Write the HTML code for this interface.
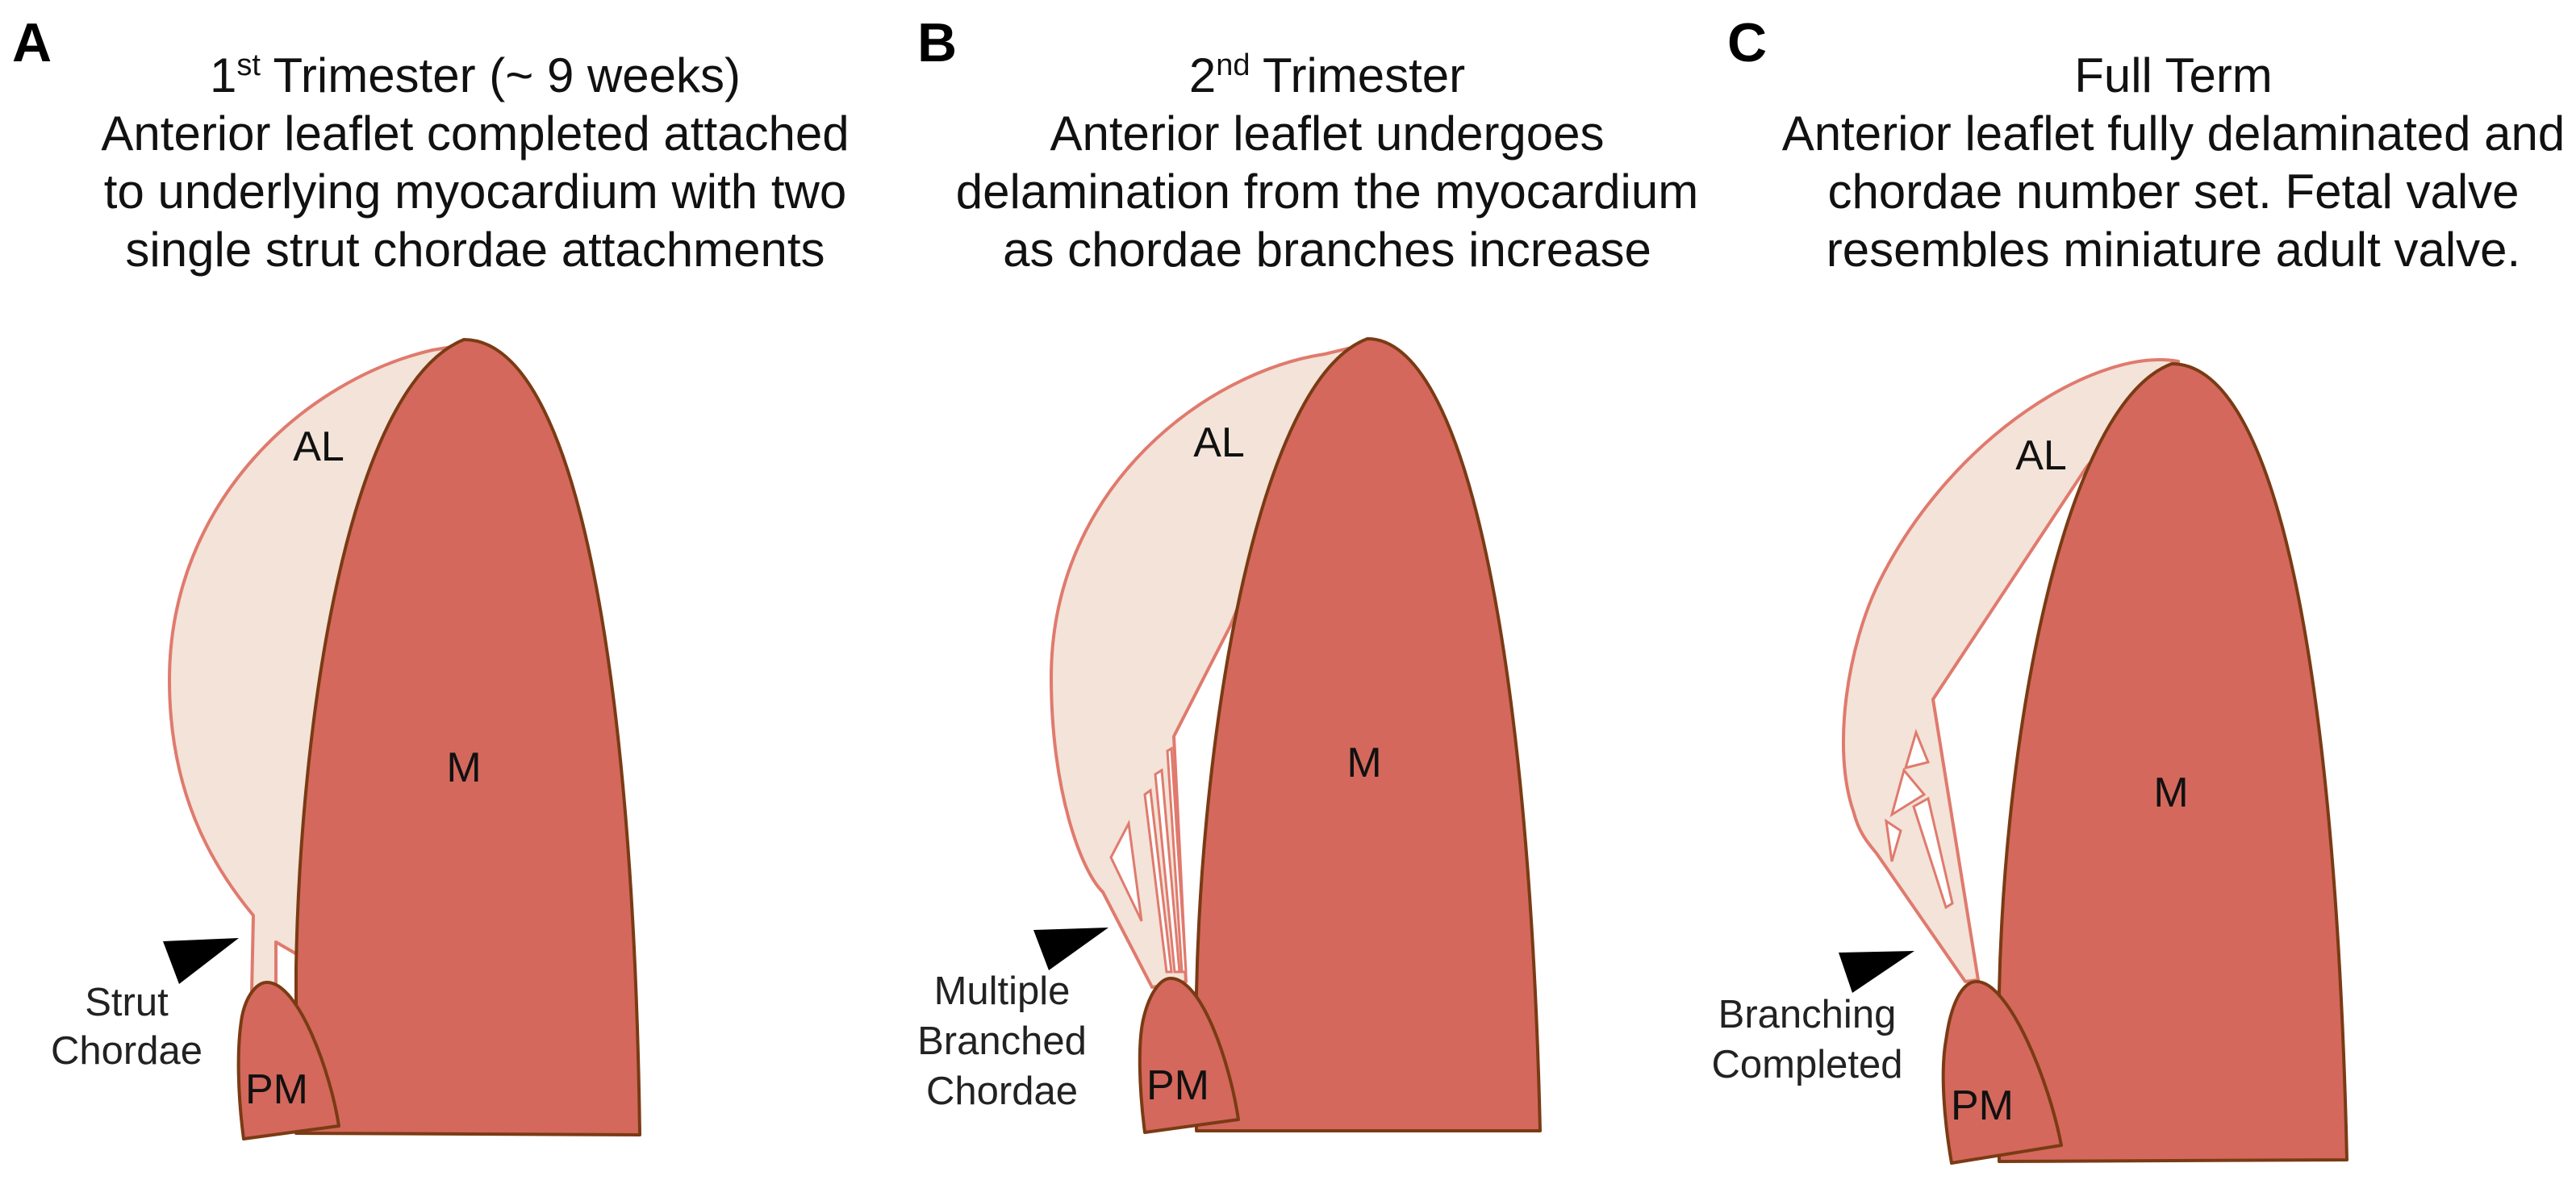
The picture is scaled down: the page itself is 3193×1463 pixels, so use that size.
<!DOCTYPE html>
<html><head><meta charset="utf-8"><style>
html,body{margin:0;padding:0;background:#fff;}
svg{display:block;}
.t{font-family:"Liberation Sans",Arial,sans-serif;font-size:60px;fill:#111;text-anchor:middle;}
.p{font-family:"Liberation Sans",Arial,sans-serif;font-size:68px;font-weight:bold;fill:#000;}
.l{font-family:"Liberation Sans",Arial,sans-serif;font-size:52px;fill:#111;text-anchor:middle;}
.c{font-family:"Liberation Sans",Arial,sans-serif;font-size:49px;fill:#222;text-anchor:middle;}
.m{fill:#d4685c;stroke:#7a3b14;stroke-width:4;stroke-linejoin:round;}
.a{fill:#f3e3d8;stroke:#e07a6e;stroke-width:4;stroke-linejoin:round;}
.ch{fill:#fff;stroke:#e07a6e;stroke-width:3;}
</style></head><body>
<svg width="3193" height="1463" viewBox="0 0 3193 1463" xmlns="http://www.w3.org/2000/svg">
<text class="p" x="15" y="76">A</text>
<text class="p" x="1137" y="76">B</text>
<text class="p" x="2141" y="76">C</text>

<text class="t" x="589" y="114">1<tspan font-size="38" dy="-21">st</tspan><tspan dy="21"> Trimester (~ 9 weeks)</tspan></text>
<text class="t" x="589" y="186">Anterior leaflet completed attached</text>
<text class="t" x="589" y="258">to underlying myocardium with two</text>
<text class="t" x="589" y="330">single strut chordae attachments</text>

<text class="t" x="1645" y="114">2<tspan font-size="38" dy="-21">nd</tspan><tspan dy="21"> Trimester</tspan></text>
<text class="t" x="1645" y="186">Anterior leaflet undergoes</text>
<text class="t" x="1645" y="258">delamination from the myocardium</text>
<text class="t" x="1645" y="330">as chordae branches increase</text>

<text class="t" x="2694" y="114">Full Term</text>
<text class="t" x="2694" y="186">Anterior leaflet fully delaminated and</text>
<text class="t" x="2694" y="258">chordae number set. Fetal valve</text>
<text class="t" x="2694" y="330">resembles miniature adult valve.</text>

<!-- Panel A -->
<path class="a" d="M536,434 C380,470 210,620 210,843 C210,980 260,1070 314,1135 L312,1230 L342,1230 L342,1168 L380,1190 L420,900 L490,600 L590,425 Z"/>
<path class="m" d="M367,1405 L367,1200 C372,900 430,480 575,421 C712,421 785,820 793,1407 Z"/>
<path class="m" d="M331,1218 C370,1218 410,1330 420,1396 L302,1412 C295,1360 293,1300 300,1260 C305,1235 318,1218 331,1218 Z"/>
<polygon points="202,1167 296,1163 222,1220" fill="#000"/>
<text class="l" x="395" y="571">AL</text>
<text class="l" x="575" y="969">M</text>
<text class="l" x="343" y="1368">PM</text>
<text class="c" x="157" y="1259">Strut</text>
<text class="c" x="157" y="1319">Chordae</text>

<!-- Panel B -->
<path class="a" d="M1642,439 C1500,460 1303,600 1303,840 C1303,980 1340,1080 1367,1106 L1428,1224 L1470,1217 L1455,913 L1525,776 L1580,640 L1700,425 Z"/>
<polygon class="ch" points="1399,1021 1377,1063 1415,1142"/>
<polygon class="ch" points="1419,985 1426,980 1452,1205 1446,1205"/>
<polygon class="ch" points="1432,960 1440,955 1462,1205 1456,1205"/>
<polygon class="ch" points="1447,931 1452,928 1470,1205 1465,1205"/>
<path class="m" d="M1483,1402 L1483,1230 C1490,900 1560,470 1695,420 C1815,420 1895,800 1909,1402 Z"/>
<path class="m" d="M1451,1213 C1490,1213 1525,1320 1535,1388 L1419,1404 C1412,1350 1410,1290 1418,1260 C1425,1232 1438,1213 1451,1213 Z"/>
<polygon points="1281,1153 1374,1150 1300,1203" fill="#000"/>
<text class="l" x="1511" y="566">AL</text>
<text class="l" x="1691" y="963">M</text>
<text class="l" x="1460" y="1363">PM</text>
<text class="c" x="1242" y="1245">Multiple</text>
<text class="c" x="1242" y="1307">Branched</text>
<text class="c" x="1242" y="1369">Chordae</text>

<!-- Panel C -->
<path class="a" d="M2700,448 C2600,430 2420,540 2330,720 C2290,800 2270,930 2298,1008 C2305,1035 2318,1048 2326,1058 L2436,1217 L2452,1215 L2396,867 L2587,578 L2700,455 Z"/>
<polygon class="ch" points="2375,908 2362,952 2390,945"/>
<polygon class="ch" points="2360,955 2345,1010 2385,985"/>
<polygon class="ch" points="2338,1018 2345,1068 2356,1030"/>
<polygon class="ch" points="2372,1000 2412,1125 2420,1120 2390,990"/>
<path class="m" d="M2478,1440 L2478,1230 C2485,900 2560,500 2692,451 C2820,451 2895,820 2909,1438 Z"/>
<path class="m" d="M2450,1217 C2490,1217 2540,1340 2555,1420 L2419,1442 C2410,1390 2405,1330 2412,1290 C2418,1245 2432,1217 2450,1217 Z"/>
<polygon points="2279,1181 2373,1179 2296,1231" fill="#000"/>
<text class="l" x="2530" y="582">AL</text>
<text class="l" x="2691" y="1000">M</text>
<text class="l" x="2457" y="1388">PM</text>
<text class="c" x="2240" y="1274">Branching</text>
<text class="c" x="2240" y="1336">Completed</text>
</svg>
</body></html>
